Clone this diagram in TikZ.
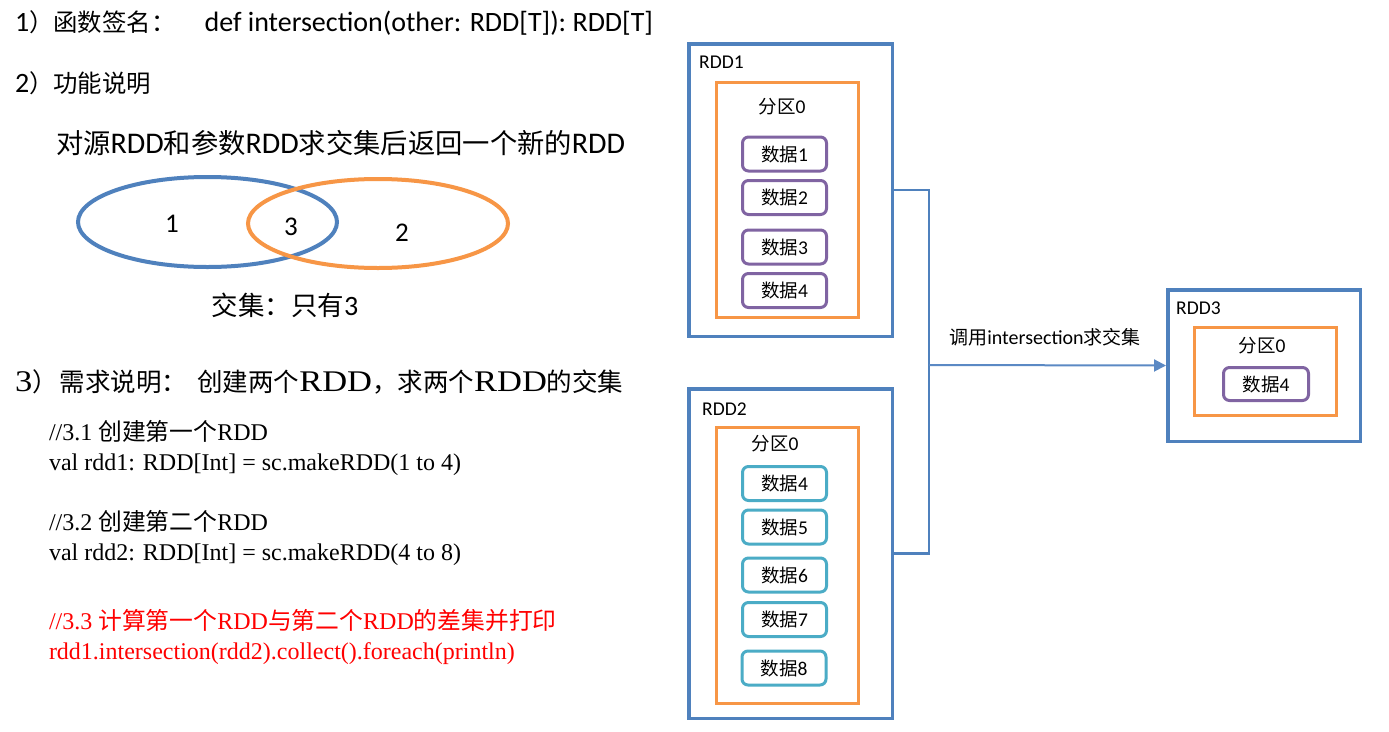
\documentclass[tikz,border=0pt]{standalone}
\usepackage{fontspec}
\setmainfont{Carlito}
\newfontfamily\cjk{Noto Sans CJK SC}
\newfontfamily\serif{Liberation Serif}
\newfontfamily\serifwide{Liberation Serif}[FakeStretch=1.15]
\usetikzlibrary{arrows.meta,shapes.geometric}

\definecolor{rddblue}{HTML}{4F81BD}
\definecolor{linkblue}{HTML}{5B89C4}
\definecolor{partorange}{HTML}{F79646}
\definecolor{datapurple}{HTML}{8064A2}
\definecolor{datacyan}{HTML}{4BACC6}
\definecolor{codered}{HTML}{FF0000}

% Chinese run at a given size, Latin size switch
\newcommand\zh[2]{{\cjk\fontsize{#1}{#1}\selectfont #2}}
\newcommand\sz[1]{\fontsize{#1}{#1}\selectfont}
\newcommand\dat[1]{\sz{19.5}\zh{18.5}{数据}#1}
\newcommand\partlabel{\sz{19.5}\zh{18.5}{分区}0}

\tikzset{
  txt/.style={inner sep=0pt, outer sep=0pt, anchor=base west},
  rddbox/.style={draw=rddblue, line width=3.5pt, inner sep=0pt},
  partbox/.style={draw=partorange, line width=3pt, inner sep=0pt},
  databox/.style={draw=#1, rounded corners=6pt, line width=3pt,
    minimum width=84pt, minimum height=34pt, inner sep=0pt},
  lbl/.style={inner sep=0pt, font=\sz{19.5}},
  venn/.style={ellipse, draw=#1, line width=4pt, inner sep=0pt},
  link/.style={draw=rddblue, line width=2.5pt},
  flow/.style={draw=linkblue, line width=2pt,
    -{Triangle[length=12pt,width=12pt]}},
}

\begin{document}
\begin{tikzpicture}[x=1pt,y=-1pt]
\useasboundingbox (0,0) rectangle (1389,731);
\fill[white] (0,0) rectangle (1389,731);

% ---- left column: description ----
\node[txt] (sig) at (15,31) {\sz{28}1\zh{24.4}{）函数签名：}\hspace{29pt}def intersection(other: RDD[T]): RDD[T]};
\node[txt] (func) at (15,92) {\sz{28}2\zh{24.4}{）功能说明}};
\node[txt] (desc) at (56,153) {\sz{30}\zh{27.3}{对源}RDD\zh{27.3}{和参数}RDD\zh{27.3}{求交集后返回一个新的}RDD};

% Venn diagram
\node[venn=rddblue, minimum width=259pt, minimum height=90pt] (setA) at (207.5,222) {};
\node[venn=partorange, minimum width=260pt, minimum height=89pt] (setB) at (378,223.5) {};
\node[inner sep=0pt, font=\sz{27}] (onlyA) at (172,224) {1};
\node[inner sep=0pt, font=\sz{27}] (both) at (291,227) {3};
\node[inner sep=0pt, font=\sz{27}] (onlyB) at (402,233) {2};
\node[inner sep=0pt] (res) at (285,305) {\sz{28}\zh{26.5}{交集：只有}3};

\node[txt] (req) at (15,391) {\serifwide\sz{30}3\zh{25.5}{）}\hspace{2pt}\zh{25.5}{需求说明：}\hspace{10pt}\zh{25.5}{创建两个}RDD\zh{25.5}{，}\zh{25.5}{求两个}RDD\zh{25.5}{的交集}};

% code listing
\node[txt] (c1) at (49,440) {\serif\sz{24}//3.1 \zh{23.8}{创建第一个}RDD};
\node[txt] (c2) at (49,470) {\serif\sz{24}val rdd1: RDD[Int] = sc.makeRDD(1 to 4)};
\node[txt] (c3) at (49,530) {\serif\sz{24}//3.2 \zh{23.8}{创建第二个}RDD};
\node[txt] (c4) at (49,560) {\serif\sz{24}val rdd2: RDD[Int] = sc.makeRDD(4 to 8)};
\node[txt, text=codered] (c5) at (49,629) {\serif\sz{24}//3.3 \zh{23.8}{计算第一个}RDD\zh{23.8}{与第二个}RDD\zh{23.8}{的差集并打印}};
\node[txt, text=codered] (c6) at (49,659) {\serif\sz{24}rdd1.intersection(rdd2).collect().foreach(println)};

% ---- right column: RDD boxes ----
% RDD1
\node[rddbox, minimum width=203.5pt, minimum height=292.5pt] (rdd1) at (790.5,190) {};
\node[lbl, anchor=west] (rdd1name) at (699,62) {RDD1};
\node[partbox, minimum width=142pt, minimum height=235pt] (p1) at (787.5,200) {};
\node[lbl] (p1name) at (782,107) {\partlabel};
\node[databox=datapurple] (a1) at (784.5,154) {\dat{1}};
\node[databox=datapurple] (a2) at (784.5,197.5) {\dat{2}};
\node[databox=datapurple] (a3) at (784.5,247) {\dat{3}};
\node[databox=datapurple] (a4) at (784.5,290.5) {\dat{4}};

% RDD2
\node[rddbox, minimum width=203.5pt, minimum height=329.5pt] (rdd2) at (790.5,553.5) {};
\node[lbl, anchor=west] (rdd2name) at (702,409) {RDD2};
\node[partbox, minimum width=142pt, minimum height=276pt] (p2) at (787.5,565.5) {};
\node[lbl] (p2name) at (775,444) {\partlabel};
\node[databox=datacyan] (b4) at (784.5,483.5) {\dat{4}};
\node[databox=datacyan] (b5) at (784.5,527) {\dat{5}};
\node[databox=datacyan] (b6) at (784.5,575) {\dat{6}};
\node[databox=datacyan] (b7) at (784.5,619.5) {\dat{7}};
\node[databox=datacyan] (b8) at (784,668) {\dat{8}};

% RDD3
\node[rddbox, minimum width=192.5pt, minimum height=151.5pt] (rdd3) at (1264,365.5) {};
\node[lbl, anchor=west] (rdd3name) at (1176,308) {RDD3};
\node[partbox, minimum width=142pt, minimum height=88pt] (p3) at (1265.5,371.5) {};
\node[lbl] (p3name) at (1262,346) {\partlabel};
\node[databox=datapurple, minimum width=85pt, minimum height=33pt] (c4b) at (1266,384) {\dat{4}};

% bracket joining RDD1 and RDD2, then the arrow to RDD3
\coordinate (join) at (929,365);
\draw[link] (rdd1.east) -| (join) |- (rdd2.east);
\draw[flow] (join) -- (rdd3.west);
\node[inner sep=0pt, font=\sz{20}] (op) at (1045,337) {\zh{19}{调用}intersection\zh{19}{求交集}};
\end{tikzpicture}
\end{document}
